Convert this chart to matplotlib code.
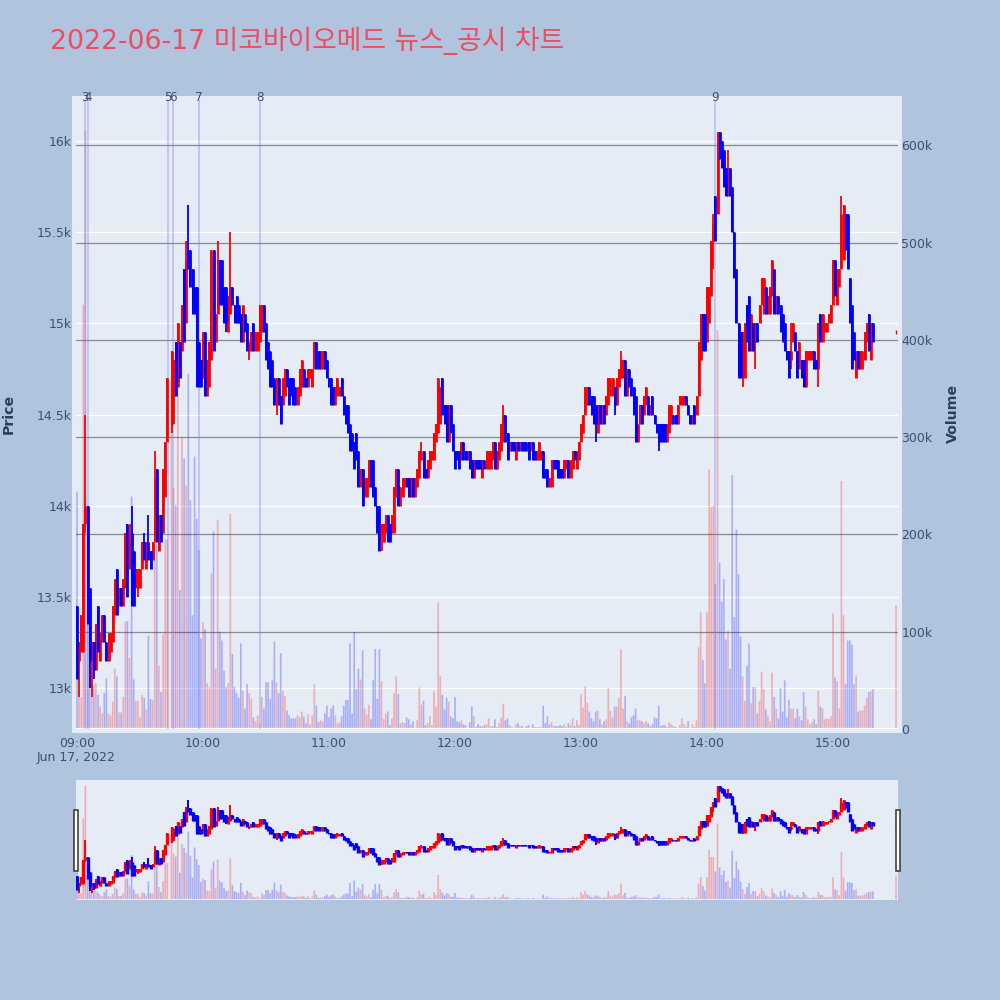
import matplotlib
matplotlib.use("Agg")
import matplotlib.pyplot as plt
from matplotlib.patches import Rectangle
import numpy as np

nan = float("nan")

# one row of ten minutes each, starting at 09:00
opens = [
    13450, 13150, 13200, 13200, 13900, 14000, 13550, 13150, 13250, 13100,
    13450, 13150, 13250, 13400, 13250, 13150, 13200, 13250, 13400, 13650,
    13450, 13550, 13450, 13550, 13900, 13650, 13850, 13750, 13550, 13550,
    13550, 13650, 13800, 13650, 13800, 13750, 13700, 13800, 14200, 13750,
    13950, 13850, 14050, 14350, nan, 14450, 14600, 14900, 14650, 14900,
    14850, 15300, 15000, 15400, 15400, 15300, 15200, 15200, 14900, 14800,
    14700, 14950, 14600, 14650, 14800, 15400, 14900, 15050, 15350, 15350,
    15200, 15200, 14950, 15050, 15200, 15100, 15150, 15100, 15050, 14900,
    15050, 15000, 14850, 14850, 15000, 14850, 14850, 14900, 14950, 15100,
    15000, 14900, 14850, 14800, 14700, 14550, 14700, 14600, 14550, 14600,
    14750, 14700, 14700, 14700, 14650, 14550, 14600, 14650, 14750, 14700,
    14650, 14700, 14650, 14750, 14900, 14850, 14750, 14750, 14850, 14800,
    14700, 14700, 14650, 14550, 14600, 14600, 14700, 14600, 14550, 14550,
    14450, 14400, 14350, 14400, 14300, 14100, 14200, 14050, 14050, 14100,
    14250, 14250, 14100, 14000, 14000, 13850, 13800, 13850, 13950, 13900,
    13850, 13850, 14050, 14200, 14000, 14050, 14100, 14150, 14150, 14050,
    14150, 14050, 14100, 14150, 14250, 14300, 14200, 14150, 14200, 14250,
    14250, 14350, 14400, 14450, 14700, 14550, 14550, 14350, 14550, 14450,
    14300, 14300, 14300, 14250, 14350, 14300, 14250, 14300, 14250, 14150,
    14250, 14250, 14250, 14150, 14250, 14200, 14200, 14200, 14250, 14350,
    14200, 14250, 14300, 14350, 14500, 14400, 14300, 14350, 14350, 14250,
    14350, 14300, 14350, 14350, 14350, 14350, 14300, 14350, 14300, 14250,
    14250, 14250, 14300, 14200, 14200, 14100, 14100, 14250, 14250, 14250,
    14200, 14200, 14150, 14200, 14250, 14150, 14200, 14300, 14200, 14250,
    14350, 14400, 14500, 14550, 14650, 14600, 14600, 14550, 14400, 14550,
    14450, 14550, 14500, 14550, 14600, 14600, 14650, 14550, 14650, 14700,
    14700, 14800, 14600, 14750, 14700, 14650, 14600, 14350, 14450, 14550,
    14500, 14550, 14600, 14500, 14600, 14500, 14450, 14450, 14450, 14450,
    14450, 14350, 14400, 14450, 14500, 14500, 14450, 14550, 14550, 14550,
    14600, 14550, 14500, 14450, 14550, 14500, 14600, 14800, 15050, 15050,
    14900, 15000, 15150, 15450, 15700, 15600, 16050, 16000, 15950, 15850,
    15700, 15850, 15750, 15500, 15300, 15000, 14950, 14700, 14700, 15100,
    15150, 14850, 15000, 14900, 15000, 15000, 15100, 15050, 15200, 15050,
    15050, 15150, 15300, 15050, 15150, 15100, 15050, 15000, 14850, 14850,
    14800, 14900, 14950, 14850, 14750, 14800, 14800, 14650, 14800, 14800,
    14800, 14850, 14800, 14750, 15050, 14900, 14950, 14950, 15000, 15000,
    15100, 15350, 15100, 15200, 15300, 15350, 15600, 15600, 15250, 15100,
    14950, 14700, 14850, 14750, 14750, 14800, 14900, 15050, 14800, 15000,
    nan, nan, nan, nan, nan, nan, nan, nan, nan, nan,
    14950,
]
closes = [
    13050, 13250, 13400, 13900, 14000, 13350, 13150, 13250, 13100, 13350,
    13200, 13300, 13400, 13250, 13150, 13300, 13300, 13450, 13600, 13400,
    13550, 13450, 13600, 13850, 13500, 13850, 13450, 13450, 13650, 13650,
    13650, 13800, 13700, 13800, 13700, 13650, 13800, 14150, 13800, 13950,
    13800, 14200, 14350, 14700, nan, 14850, 14800, 14600, 15000, 14700,
    15100, 14900, 15350, 15300, 15200, 15050, 15050, 14650, 14650, 14650,
    14950, 14600, 14800, 14900, 15400, 14850, 15050, 15350, 15100, 15100,
    15000, 15000, 15150, 15200, 15100, 15000, 15000, 15000, 14900, 15100,
    14950, 14850, 14900, 14950, 14850, 14950, 14950, 15100, 15100, 14950,
    14800, 14750, 14650, 14650, 14550, 14700, 14550, 14450, 14700, 14750,
    14650, 14550, 14600, 14550, 14550, 14650, 14750, 14800, 14650, 14650,
    14750, 14750, 14750, 14900, 14750, 14750, 14850, 14850, 14750, 14700,
    14650, 14550, 14550, 14650, 14700, 14650, 14600, 14500, 14450, 14400,
    14300, 14300, 14200, 14250, 14100, 14200, 14000, 14150, 14150, 14250,
    14100, 14050, 14000, 13850, 13750, 13900, 13900, 13950, 13800, 13800,
    13950, 14100, 14200, 14000, 14100, 14150, 14150, 14100, 14050, 14150,
    14050, 14150, 14200, 14300, 14300, 14150, 14150, 14250, 14300, 14300,
    14400, 14450, 14700, 14650, 14500, 14450, 14350, 14550, 14400, 14300,
    14200, 14250, 14200, 14350, 14250, 14250, 14300, 14200, 14150, 14250,
    14200, 14200, 14200, 14250, 14200, 14300, 14300, 14300, 14350, 14200,
    14300, 14350, 14450, 14500, 14350, 14250, 14350, 14300, 14300, 14350,
    14300, 14350, 14300, 14300, 14300, 14250, 14350, 14250, 14250, 14300,
    14350, 14300, 14150, 14150, 14100, 14150, 14250, 14200, 14200, 14150,
    14150, 14150, 14250, 14250, 14150, 14250, 14300, 14250, 14300, 14350,
    14450, 14500, 14650, 14650, 14550, 14500, 14450, 14450, 14550, 14450,
    14550, 14450, 14600, 14700, 14700, 14700, 14550, 14700, 14750, 14800,
    14800, 14600, 14750, 14650, 14600, 14500, 14350, 14450, 14550, 14450,
    14600, 14650, 14500, 14550, 14500, 14450, 14400, 14350, 14350, 14350,
    14350, 14450, 14550, 14550, 14450, 14450, 14550, 14600, 14600, 14600,
    14550, 14500, 14450, 14500, 14450, 14600, 14900, 15050, 14850, 14850,
    15200, 15200, 15450, 15550, 15450, 16050, 15900, 15850, 15750, 15700,
    15850, 15700, 15500, 15250, 15000, 14700, 14700, 14950, 15000, 14900,
    14850, 15050, 14850, 15000, 14900, 15100, 15250, 15250, 15050, 15150,
    15200, 15350, 15050, 15150, 15050, 14950, 14900, 14850, 14800, 14700,
    14850, 15000, 14850, 14700, 14900, 14700, 14650, 14850, 14850, 14850,
    14850, 14750, 14750, 15000, 14900, 15050, 15000, 15000, 15050, 15100,
    15350, 15150, 15300, 15300, 15600, 15650, 15400, 15300, 15000, 14750,
    14800, 14850, 14750, 14850, 14850, 14950, 15000, 14850, 15000, 14900,
    nan, nan, nan, nan, nan, nan, nan, nan, nan, nan,
    14950,
]
# wicks that stick out past the body, minute -> price
high_wicks = {4: 14500, 25: 13900, 26: 14000, 32: 13850, 34: 13950, 37: 14300,
              52: 15450, 53: 15650, 67: 15450, 73: 15500, 164: 14350, 203: 14550,
              259: 14850, 303: 15600, 310: 15950, 340: 15000, 364: 15700}
low_wicks = {1: 12950, 4: 13850, 6: 13000, 7: 12950, 8: 13050, 29: 13500, 45: 14400,
             46: 14450, 71: 14950, 82: 14800, 95: 14500, 145: 13750, 247: 14350,
             256: 14500, 277: 14300, 303: 15300, 317: 14650, 323: 14750, 340: 14750,
             353: 14650}

# volume in thousands of shares
volume_k = [
    244, 33, 33, 436, 615, 217, 108, 33, 45, 47,
    35, 23, 16, 37, 52, 16, 14, 28, 62, 54,
    17, 17, 33, 110, 111, 73, 239, 51, 29, 29,
    12, 35, 32, 20, 96, 31, 30, 190, 190, 65,
    38, 97, 195, 195, 0, 350, 247, 230, 345, 143,
    300, 278, 250, 365, 235, 117, 280, 216, 184, 93,
    110, 103, 47, 43, 160, 203, 62, 215, 100, 91,
    60, 43, 47, 221, 77, 43, 37, 32, 88, 39,
    21, 46, 37, 31, 12, 8, 14, 6, 33, 21,
    48, 48, 31, 50, 90, 48, 37, 78, 39, 34,
    19, 14, 11, 11, 11, 14, 12, 18, 13, 6,
    15, 5, 14, 46, 24, 7, 9, 8, 16, 24,
    12, 21, 24, 14, 6, 7, 13, 24, 30, 30,
    88, 16, 100, 41, 62, 51, 81, 21, 15, 25,
    10, 50, 82, 31, 82, 49, 10, 16, 18, 4,
    11, 37, 54, 36, 6, 7, 6, 12, 10, 5,
    8, 1, 9, 43, 25, 29, 4, 6, 13, 4,
    39, 23, 130, 54, 35, 20, 32, 28, 13, 11,
    33, 8, 7, 9, 5, 4, 1, 7, 23, 13,
    2, 5, 3, 3, 4, 5, 11, 3, 3, 10,
    2, 6, 12, 26, 9, 11, 4, 2, 1, 5,
    6, 3, 3, 1, 3, 4, 1, 5, 2, 2,
    2, 2, 24, 6, 13, 5, 7, 3, 3, 3,
    4, 3, 5, 2, 6, 4, 11, 3, 9, 4,
    36, 22, 44, 27, 18, 11, 8, 18, 19, 10,
    5, 8, 10, 42, 19, 12, 23, 23, 32, 82,
    21, 34, 8, 6, 12, 14, 21, 9, 9, 8,
    6, 8, 6, 3, 5, 12, 11, 24, 3, 4,
    4, 2, 7, 5, 3, 2, 1, 4, 11, 5,
    2, 8, 1, 5, 2, 9, 84, 120, 71, 47,
    120, 267, 228, 229, 149, 410, 171, 131, 154, 92,
    101, 62, 261, 115, 205, 159, 95, 54, 29, 65,
    88, 27, 43, 43, 16, 29, 59, 41, 20, 14,
    8, 58, 33, 21, 11, 42, 18, 50, 12, 30,
    21, 21, 11, 21, 13, 9, 38, 23, 10, 5,
    7, 10, 5, 39, 23, 21, 10, 11, 10, 13,
    119, 53, 49, 21, 255, 117, 46, 91, 91, 87,
    46, 55, 18, 19, 19, 24, 32, 38, 39, 41,
    0, 0, 0, 0, 0, 0, 0, 0, 0, 0,
    127,
]

news_minutes = [3.8, 5.2, 43.2, 45.9, 58, 87, 303.7]
news_labels = ["3", "4", "5", "6", "7", "8", "9"]

price_ticks = [13000, 13500, 14000, 14500, 15000, 15500, 16000]
price_labels = ["13k", "13.5k", "14k", "14.5k", "15k", "15.5k", "16k"]
vol_ticks = [0, 100000, 200000, 300000, 400000, 500000, 600000]
vol_labels = ["0", "100k", "200k", "300k", "400k", "500k", "600k"]
hour_ticks = [0, 60, 120, 180, 240, 300, 360]
hour_labels = ["09:00", "10:00", "11:00", "12:00", "13:00", "14:00", "15:00"]

title = "2022-06-17 미코바이오메드 뉴스_공시 차트"

text_color = "#3d5070"
price_lim = (12775, 16225)
vol_lim = (0, 646500)
x_lim = (-0.48, 390.95)

plt.rcParams["font.family"] = ["DejaVu Sans", "Noto Sans CJK KR"]

fig = plt.figure(figsize=(10, 10), dpi=100, facecolor="#B0C4DE")


# pixel box (left, top, right, bottom) to figure fractions
def px_box(x0, y0, x1, y1):
    return [x0 / 1000, 1 - y1 / 1000, (x1 - x0) / 1000, (y1 - y0) / 1000]


def new_axes(box, **kw):
    a = fig.add_axes(px_box(*box), **kw)
    a.patch.set_visible(False)
    for s in a.spines.values():
        s.set_visible(False)
    a.set_xlim(*x_lim)
    a.set_xticks([])
    a.set_yticks([])
    return a


def draw_bars(a):
    o = np.array(opens)
    c = np.array(closes)
    colors = ["#FF0000" if cl >= op else "#0000FF" for op, cl in zip(o, c)]
    a.bar(range(len(volume_k)), np.array(volume_k) * 1000, width=0.8, color=colors, alpha=0.26,
          linewidth=0, snap=False)
    a.set_ylim(*vol_lim)


def draw_candles(a, body_lw, wick_lw):
    o = np.array(opens)
    c = np.array(closes)
    t = np.arange(len(o))
    up = c >= o
    hi = np.maximum(o, c)
    lo = np.minimum(o, c)
    wick_hi = hi.copy()
    wick_lo = lo.copy()
    for k, v in high_wicks.items():
        wick_hi[k] = v
    for k, v in low_wicks.items():
        wick_lo[k] = v
    for mask, col in ((up, "#FF0000"), (~up, "#0000FF")):
        a.vlines(t[mask], wick_lo[mask], wick_hi[mask], color=col, linewidth=wick_lw)
        a.vlines(t[mask], lo[mask], hi[mask], color=col, linewidth=body_lw)
    # the lone last print has no body height
    a.plot([390], [closes[390]], marker="|", ms=2.5, mew=1.0, color="#FF0000")
    a.set_ylim(*price_lim)


# panel backgrounds stick out a few px past the plot area
fig.patches.append(Rectangle((0.072, 1 - 0.733), 0.830, 0.637, transform=fig.transFigure,
                             facecolor="#E5ECF6", edgecolor="none", zorder=-1))
fig.patches.append(Rectangle((0.076, 1 - 0.8995), 0.822, 0.1195, transform=fig.transFigure,
                             facecolor="#E5ECF6", edgecolor="none", zorder=-1))

main_box = (76, 100, 898, 729)

ax_grid = new_axes(main_box)
ax_grid.set_zorder(1)
ax_grid.set_ylim(*price_lim)
ax_grid.set_yticks(price_ticks, price_labels, color=text_color, fontsize=9)
ax_grid.set_xticks(hour_ticks, hour_labels, color=text_color, fontsize=9)
ax_grid.tick_params(axis="both", length=0)
ax_grid.tick_params(axis="y", pad=3)
ax_grid.tick_params(axis="x", pad=5.5)
ax_grid.grid(axis="y", color="white", linewidth=1.0)
ax_grid.set_axisbelow(True)

ax_vol = new_axes(main_box)
ax_vol.set_zorder(2)
draw_bars(ax_vol)
ax_vol.yaxis.tick_right()
ax_vol.set_yticks(vol_ticks, vol_labels, color=text_color, fontsize=9)
ax_vol.tick_params(axis="y", length=0, pad=2.5)
ax_vol.grid(axis="y", color="#8a8a8a", linewidth=0.9)
ax_vol.set_axisbelow(True)
ax_vol.axhline(0, color="white", linewidth=1.6, zorder=1)
for m, lab in zip(news_minutes, news_labels):
    ax_vol.axvline(m, color="#6f86ee", alpha=0.45, linewidth=1.1)
    ax_vol.text(m, 1.0 + 3 / 629, lab, transform=ax_vol.get_xaxis_transform(), ha="center",
                va="center", color=text_color, fontsize=8.6, clip_on=False)

ax_candle = new_axes(main_box)
ax_candle.set_zorder(3)
draw_candles(ax_candle, 2.0, 1.3)

# range slider below the main panel
slider_box = (76, 780, 898, 899)
ax_mini_vol = new_axes(slider_box)
draw_bars(ax_mini_vol)
ax_mini = new_axes(slider_box)
draw_candles(ax_mini, 2.4, 1.4)

for x0 in (73.5, 896.3):
    fig.patches.append(Rectangle((x0 / 1000, 1 - 0.8705), 0.0042, 0.0605, transform=fig.transFigure,
                                 facecolor="white", edgecolor="#333333", linewidth=1.1, zorder=6))

fig.text(0.050, 1 - 0.041, title, color="#EF4B62", fontsize=19.3, va="center", ha="left")
fig.text(0.037, 1 - 0.758, "Jun 17, 2022", color=text_color, fontsize=9, va="center", ha="left")
fig.text(0.009, 1 - 0.414, "Price", color="#2a3f5f", fontsize=10.2, fontweight="bold", rotation=90,
         va="center", ha="center")
fig.text(0.953, 1 - 0.4135, "Volume", color="#2a3f5f", fontsize=10.2, fontweight="bold", rotation=90,
         va="center", ha="center")

fig.savefig("out.png", dpi=100, facecolor=fig.get_facecolor())
